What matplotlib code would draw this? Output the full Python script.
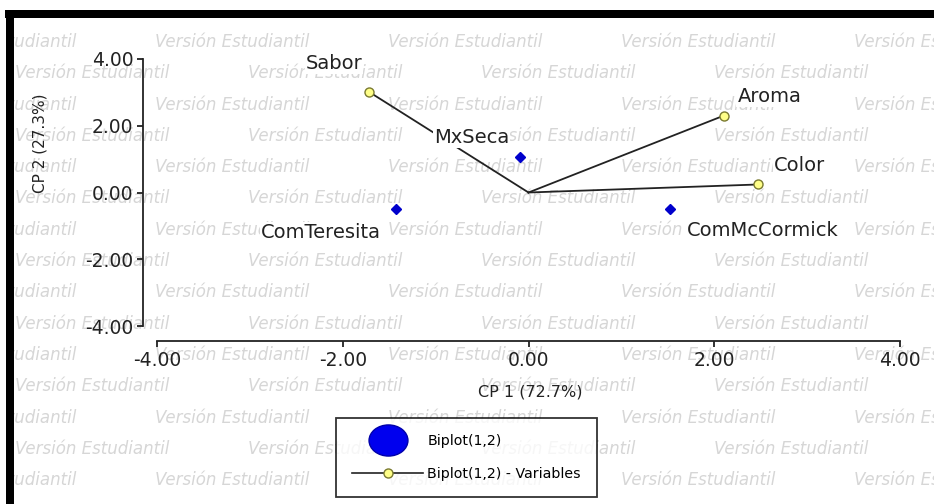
import matplotlib
matplotlib.use("Agg")
import matplotlib.pyplot as plt
from matplotlib.lines import Line2D
from matplotlib.patches import Rectangle
from matplotlib.path import Path
from matplotlib.transforms import Affine2D, Bbox, TransformedBbox

plt.rcParams['font.family'] = ['DejaVu Sans']
plt.rcParams['axes.unicode_minus'] = False

# ---- data ----
obs_names = ["MxSeca", "ComTeresita", "ComMcCormick"]
obs_x = [-0.09, -1.43, 1.52]
obs_y = [1.07, -0.48, -0.48]

var_names = ["Sabor", "Aroma", "Color"]
var_x = [-1.72, 2.10, 2.47]
var_y = [3.02, 2.30, 0.24]

x_ticks = [-4, -2, 0, 2, 4]
y_ticks = [-4, -2, 0, 2, 4]
x_title = "CP 1 (72.7%)"
y_title = "CP 2 (27.3%)"
legend_labels = ["Biplot(1,2)", "Biplot(1,2) - Variables"]
watermark = "Versión Estudiantil"

# label offsets (points)
obs_off = [(-35, 14), (-54, -17), (67, -16)]
var_off = [(-25, 20), (33, 14), (30, 14)]

W, H = 934, 504
fig = plt.figure(figsize=(W / 100, H / 100), dpi=100)
fig.patch.set_facecolor("white")

def fx(px):
    return px / W

def fy(py):
    return 1 - py / H

# watermark (clipped to the inside of the frame)
wm_color = "#d6d6d6"
clip = TransformedBbox(Bbox([[fx(14), 0], [1, fy(18)]]), fig.transFigure)
row_y0, row_dy = 42, 31.3
for k in range(15):
    y = row_y0 + k * row_dy
    start = -78 if k % 2 == 0 else 15
    for j in range(6):
        x = start + 233 * j
        t = fig.text(fx(x), fy(y), watermark, fontsize=12, style="italic",
                     color=wm_color, ha="left", va="center", zorder=-5)
        t.set_clip_box(clip)
        t.set_clip_on(True)

# frame
fig.patches.append(Rectangle((fx(5), fy(18)), 1, fy(10) - fy(18),
                             transform=fig.transFigure, facecolor="black",
                             edgecolor="none", zorder=10))
fig.patches.append(Rectangle((fx(6), 0), fx(14) - fx(6), fy(10),
                             transform=fig.transFigure, facecolor="black",
                             edgecolor="none", zorder=10))

ax = fig.add_axes([fx(157), fy(326), fx(900) - fx(157), fy(59) - fy(326)])
ax.patch.set_alpha(0)
ax.set_xlim(-4, 4)
ax.set_ylim(-4, 4)
for s in ["top", "right"]:
    ax.spines[s].set_visible(False)
ax.spines["left"].set_position(("outward", 10))
ax.spines["bottom"].set_position(("outward", 11))
for s in ["left", "bottom"]:
    ax.spines[s].set_color("#222222")
    ax.spines[s].set_linewidth(1.3)
ax.set_xticks(x_ticks)
ax.set_yticks(y_ticks)
ax.set_xticklabels([f"{v:.2f}" for v in x_ticks])
ax.set_yticklabels([f"{v:.2f}" for v in y_ticks])
ax.tick_params(axis="both", direction="out", length=4, width=1.3,
               color="#222222", labelsize=13.5, labelcolor="#222222", pad=3)

# variable vectors
for vx, vy in zip(var_x, var_y):
    ax.plot([0, vx], [0, vy], color="#222222", lw=1.3, zorder=2, clip_on=False)
ax.plot(var_x, var_y, linestyle="none", marker="o", ms=6.5,
        markerfacecolor="#ffff88", markeredgecolor="#7a7a30", mew=1.0,
        zorder=4, clip_on=False)

# observations
ax.plot(obs_x, obs_y, linestyle="none", marker="D", ms=5.5,
        markerfacecolor="#0000cc", markeredgecolor="#0000cc", zorder=4,
        clip_on=False)

lab_kw = dict(fontsize=14, color="#222222", ha="center", va="center",
              textcoords="offset points", zorder=5,
              bbox=dict(boxstyle="square,pad=0.05", fc="white", ec="none"))
for n, x, y, off in zip(obs_names, obs_x, obs_y, obs_off):
    ax.annotate(n, (x, y), xytext=off, **lab_kw)
for n, x, y, off in zip(var_names, var_x, var_y, var_off):
    ax.annotate(n, (x, y), xytext=off, **lab_kw)

fig.text(fx(530), fy(392), x_title, fontsize=11.5, color="#222222",
         ha="center", va="center")
fig.text(fx(40), fy(143), y_title, fontsize=11, color="#222222",
         ha="center", va="center", rotation=90)

ellipse = Path.unit_circle().transformed(Affine2D().scale(1.25, 1.0))
handles = [
    Line2D([], [], linestyle="none", marker=ellipse, ms=28,
           markerfacecolor="#0000ee", markeredgecolor="#0000aa"),
    Line2D([], [], color="#222222", lw=1.2, marker="o", ms=6.5,
           markerfacecolor="#ffff88", markeredgecolor="#7a7a30"),
]
leg = fig.legend(handles, legend_labels, loc="upper left",
                 bbox_to_anchor=(fx(336), fy(418)), borderaxespad=0,
                 fontsize=10.2, frameon=True, fancybox=False,
                 handlelength=5.0, handletextpad=0.3, labelspacing=1.3,
                 borderpad=1.15)
leg.get_frame().set_edgecolor("black")
leg.get_frame().set_linewidth(1.3)
leg.set_zorder(20)

fig.savefig("out.png", dpi=100)
